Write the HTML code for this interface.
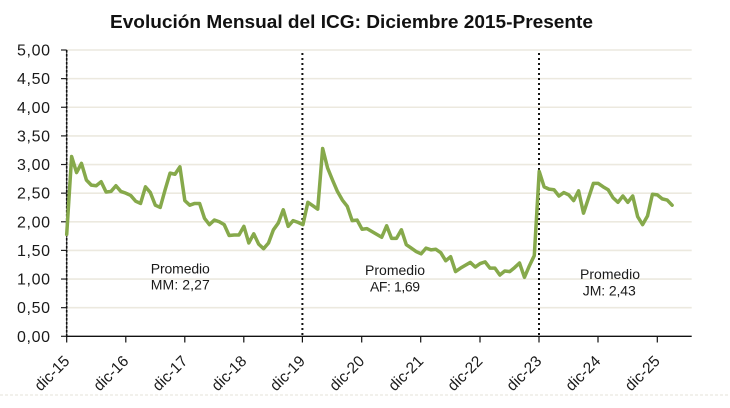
<!DOCTYPE html>
<html>
<head>
<meta charset="utf-8">
<style>
html,body{margin:0;padding:0;background:#fff;}
svg{display:block;}
text{font-family:"Liberation Sans",Arial,sans-serif;fill:#1a1a1a;}
</style>
</head>
<body>
<svg width="730" height="408" viewBox="0 0 730 408" xmlns="http://www.w3.org/2000/svg">
  <rect x="0" y="0" width="730" height="408" fill="#fff"/>
  <!-- Title -->
  <text x="351.5" y="28" text-anchor="middle" font-size="18.5" font-weight="bold" textLength="483" lengthAdjust="spacingAndGlyphs" style="fill:#111">Evolución Mensual del ICG: Diciembre 2015-Presente</text>

  <!-- gridlines -->
  <g stroke="#ece9df" stroke-width="1.6">
    <line x1="66.7" y1="50" x2="691.7" y2="50"/>
    <line x1="66.7" y1="78.63" x2="691.7" y2="78.63"/>
    <line x1="66.7" y1="107.26" x2="691.7" y2="107.26"/>
    <line x1="66.7" y1="135.89" x2="691.7" y2="135.89"/>
    <line x1="66.7" y1="164.52" x2="691.7" y2="164.52"/>
    <line x1="66.7" y1="193.15" x2="691.7" y2="193.15"/>
    <line x1="66.7" y1="221.78" x2="691.7" y2="221.78"/>
    <line x1="66.7" y1="250.41" x2="691.7" y2="250.41"/>
    <line x1="66.7" y1="279.04" x2="691.7" y2="279.04"/>
    <line x1="66.7" y1="307.67" x2="691.7" y2="307.67"/>
  </g>

  <!-- y ticks -->
  <g stroke="#222" stroke-width="1.2">
    <line x1="61" y1="50" x2="66.7" y2="50"/>
    <line x1="61" y1="78.63" x2="66.7" y2="78.63"/>
    <line x1="61" y1="107.26" x2="66.7" y2="107.26"/>
    <line x1="61" y1="135.89" x2="66.7" y2="135.89"/>
    <line x1="61" y1="164.52" x2="66.7" y2="164.52"/>
    <line x1="61" y1="193.15" x2="66.7" y2="193.15"/>
    <line x1="61" y1="221.78" x2="66.7" y2="221.78"/>
    <line x1="61" y1="250.41" x2="66.7" y2="250.41"/>
    <line x1="61" y1="279.04" x2="66.7" y2="279.04"/>
    <line x1="61" y1="307.67" x2="66.7" y2="307.67"/>
    <line x1="61" y1="336.3" x2="66.7" y2="336.3"/>
  </g>

  <!-- y axis (dotted look) -->
  <line x1="66.7" y1="50" x2="66.7" y2="336.3" stroke="#333" stroke-width="1"/>
  <line x1="66.7" y1="50" x2="66.7" y2="336.3" stroke="#111" stroke-width="1.6" stroke-dasharray="2.5 1.5"/>

  <!-- y labels -->
  <g font-size="16" text-anchor="end">
    <text x="50" y="55.5" textLength="33">5,00</text>
    <text x="50" y="84.1" textLength="33">4,50</text>
    <text x="50" y="112.8" textLength="33">4,00</text>
    <text x="50" y="141.4" textLength="33">3,50</text>
    <text x="50" y="170" textLength="33">3,00</text>
    <text x="50" y="198.6" textLength="33">2,50</text>
    <text x="50" y="227.3" textLength="33">2,00</text>
    <text x="50" y="255.9" textLength="33">1,50</text>
    <text x="50" y="284.5" textLength="33">1,00</text>
    <text x="50" y="313.2" textLength="33">0,50</text>
    <text x="50" y="341.8" textLength="33">0,00</text>
  </g>

  <!-- vertical dotted separators -->
  <g stroke="#111" stroke-width="2" stroke-dasharray="2 3">
    <line x1="302.4" y1="53" x2="302.4" y2="336"/>
    <line x1="539" y1="53" x2="539" y2="336"/>
  </g>

  <!-- x axis -->
  <line x1="66.7" y1="336.3" x2="691.7" y2="336.3" stroke="#111" stroke-width="1.4"/>
  <g stroke="#111" stroke-width="1.2">
    <line x1="66.7" y1="336.3" x2="66.7" y2="342.5"/>
    <line x1="125.8" y1="336.3" x2="125.8" y2="342.5"/>
    <line x1="184.8" y1="336.3" x2="184.8" y2="342.5"/>
    <line x1="243.8" y1="336.3" x2="243.8" y2="342.5"/>
    <line x1="302.4" y1="336.3" x2="302.4" y2="342.5"/>
    <line x1="361.7" y1="336.3" x2="361.7" y2="342.5"/>
    <line x1="420.7" y1="336.3" x2="420.7" y2="342.5"/>
    <line x1="480" y1="336.3" x2="480" y2="342.5"/>
    <line x1="539" y1="336.3" x2="539" y2="342.5"/>
    <line x1="598" y1="336.3" x2="598" y2="342.5"/>
    <line x1="657.3" y1="336.3" x2="657.3" y2="342.5"/>
  </g>

  <!-- x labels -->
  <g font-size="15.5" text-anchor="end">
    <text transform="translate(70.5,362) rotate(-45)">dic-15</text>
    <text transform="translate(129.5,362) rotate(-45)">dic-16</text>
    <text transform="translate(188.5,362) rotate(-45)">dic-17</text>
    <text transform="translate(247.5,362) rotate(-45)">dic-18</text>
    <text transform="translate(306,362) rotate(-45)">dic-19</text>
    <text transform="translate(365.3,362) rotate(-45)">dic-20</text>
    <text transform="translate(424.3,362) rotate(-45)">dic-21</text>
    <text transform="translate(483.5,362) rotate(-45)">dic-22</text>
    <text transform="translate(542.5,362) rotate(-45)">dic-23</text>
    <text transform="translate(601.5,362) rotate(-45)">dic-24</text>
    <text transform="translate(660.8,362) rotate(-45)">dic-25</text>
  </g>

  <!-- series -->
  <g transform="translate(66.7,336.3) scale(4.922,-57.26)">
    <polyline fill="none" stroke="#86a94b" stroke-width="3.5" vector-effect="non-scaling-stroke" stroke-linejoin="round" stroke-linecap="round"
      points="0,1.78 1,3.14 2,2.86 3,3.02 4,2.73 5,2.64 6,2.63 7,2.70 8,2.52 9,2.53 10,2.63 11,2.53 12,2.50 13,2.46 14,2.36 15,2.32 16,2.61 17,2.51 18,2.29 19,2.25 20,2.56 21,2.85 22,2.83 23,2.96 24,2.37 25,2.29 26,2.32 27,2.32 28,2.06 29,1.95 30,2.03 31,2.00 32,1.95 33,1.76 34,1.77 35,1.77 36,1.92 37,1.63 38,1.79 39,1.61 40,1.53 41,1.63 42,1.86 43,1.98 44,2.21 45,1.92 46,2.02 47,1.99 48,1.95 49,2.34 50,2.28 51,2.22 52,3.28 53,2.94 54,2.73 55,2.53 56,2.38 57,2.27 58,2.02 59,2.03 60,1.87 61,1.88 62,1.83 63,1.78 64,1.73 65,1.93 66,1.71 67,1.71 68,1.86 69,1.60 70,1.54 71,1.48 72,1.44 73,1.54 74,1.51 75,1.52 76,1.46 77,1.32 78,1.39 79,1.13 80,1.19 81,1.24 82,1.29 83,1.21 84,1.27 85,1.30 86,1.19 87,1.19 88,1.07 89,1.14 90,1.13 91,1.20 92,1.28 93,1.03 94,1.23 95,1.41 96,2.88 97,2.61 98,2.57 99,2.56 100,2.45 101,2.51 102,2.47 103,2.37 104,2.54 105,2.15 106,2.41 107,2.67 108,2.67 109,2.61 110,2.56 111,2.42 112,2.34 113,2.45 114,2.34 115,2.45 116,2.09 117,1.95 118,2.10 119,2.48 120,2.47 121,2.40 122,2.38 123,2.29"/>
  </g>

  <!-- annotations -->
  <g font-size="14" text-anchor="middle">
    <text x="180.3" y="273.3" textLength="59">Promedio</text>
    <text x="180.3" y="289.5" textLength="59">MM: 2,27</text>
    <text x="395" y="275" textLength="60">Promedio</text>
    <text x="395" y="291.3" textLength="50">AF: 1,69</text>
    <text x="610" y="279" textLength="60">Promedio</text>
    <text x="609.3" y="295.7" textLength="53">JM: 2,43</text>
  </g>

  <!-- bottom faint dashed line -->
  <line x1="0" y1="395" x2="730" y2="395" stroke="#e6e3d8" stroke-width="1" stroke-dasharray="3 2"/>
</svg>
</body>
</html>
